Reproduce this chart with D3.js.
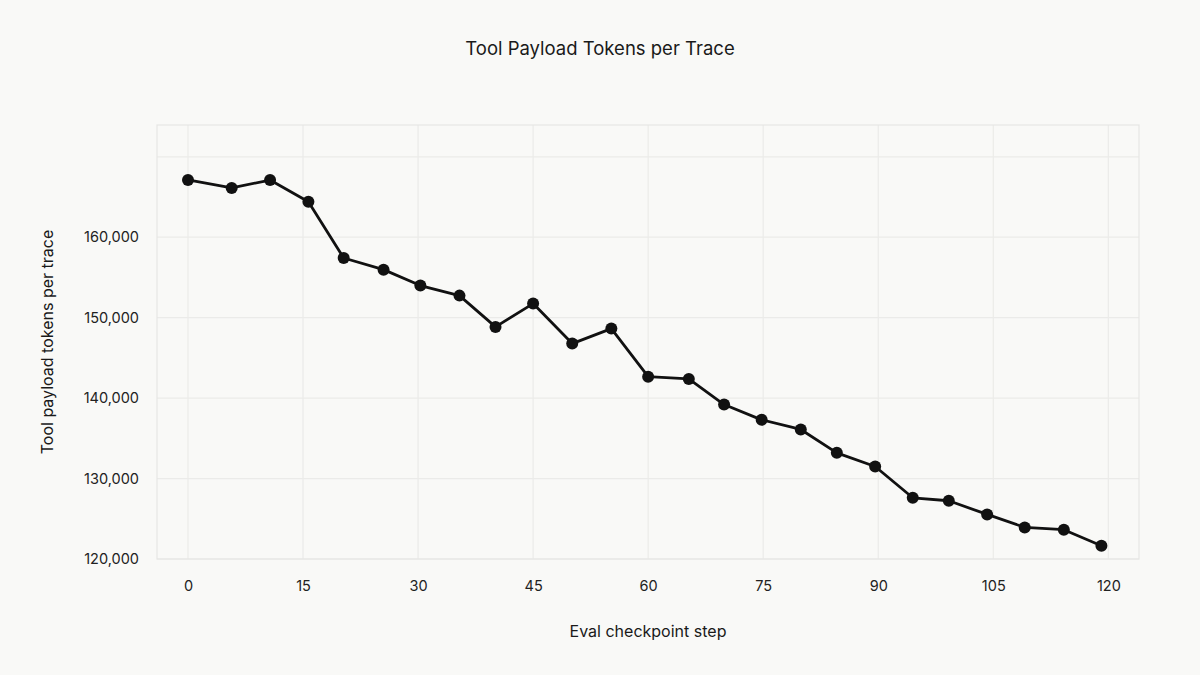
<!DOCTYPE html>
<html>
<head>
<meta charset="utf-8">
<script src="https://cdn.jsdelivr.net/npm/d3@7"></script>
<style>
  html, body { margin: 0; padding: 0; background: #f9f9f7; }
  svg { display: block; font-family: Inter, "Noto Sans", sans-serif; }
</style>
</head>
<body>
<div id="chart"></div>
<script>
const steps = [0, 5.7, 10.7, 15.7, 20.3, 25.5, 30.3, 35.4, 40.1, 45.0, 50.1, 55.2, 60.0,
  65.3, 69.9, 74.8, 79.9, 84.6, 89.6, 94.5, 99.2, 104.2, 109.1, 114.2, 119.1];
const tokens = [167120, 166120, 167110, 164410, 157420, 155970, 153990, 152740, 148850,
  151750, 146780, 148640, 142660, 142390, 139200, 137300, 136100, 133200, 131500,
  127610, 127240, 125540, 123930, 123640, 121650];
const xTicks = [0, 15, 30, 45, 60, 75, 90, 105, 120];
const yGrid = [120000, 130000, 140000, 150000, 160000, 170000];
const yTicks = [120000, 130000, 140000, 150000, 160000];

const width = 1200, height = 675;
const margin = {top: 125, right: 61, bottom: 116, left: 157};
const innerW = width - margin.left - margin.right;
const innerH = height - margin.top - margin.bottom;

const svg = d3.select('#chart').append('svg')
  .attr('width', width)
  .attr('height', height);

const x = d3.scaleLinear().domain([-4.04, 124]).range([margin.left, margin.left + innerW]);
const y = d3.scaleLinear().domain([120000, 173950]).range([margin.top + innerH, margin.top]);

const grid = svg.append('g').attr('stroke', '#ebebe9').attr('stroke-width', 1.2);
grid.selectAll('.gx').data(xTicks).enter().append('line')
  .attr('x1', d => x(d)).attr('x2', d => x(d))
  .attr('y1', margin.top).attr('y2', margin.top + innerH);
grid.selectAll('.gy').data(yGrid).enter().append('line')
  .attr('x1', margin.left).attr('x2', margin.left + innerW)
  .attr('y1', d => y(d)).attr('y2', d => y(d));

svg.append('rect')
  .attr('x', margin.left).attr('y', margin.top)
  .attr('width', innerW).attr('height', innerH)
  .attr('fill', 'none').attr('stroke', '#e6e6e4').attr('stroke-width', 1.2);

// axes (text only, no domain / tick lines)
const xAxis = svg.append('g')
  .attr('transform', `translate(0,${margin.top + innerH})`)
  .call(d3.axisBottom(x).tickValues(xTicks).tickSize(0).tickPadding(22));
const yAxis = svg.append('g')
  .attr('transform', `translate(${margin.left},0)`)
  .call(d3.axisLeft(y).tickValues(yTicks).tickSize(0).tickPadding(18).tickFormat(d3.format(',')));
[xAxis, yAxis].forEach(g => {
  g.select('.domain').remove();
  g.selectAll('text').attr('fill', '#222').style('font-size', '14.5px')
    .style('font-family', 'Inter, "Noto Sans", sans-serif');
});

const line = d3.line().x((d, i) => x(steps[i])).y(d => y(d));
svg.append('path')
  .datum(tokens)
  .attr('fill', 'none')
  .attr('stroke', '#111')
  .attr('stroke-width', 2.8)
  .attr('stroke-linejoin', 'round')
  .attr('d', line);

svg.append('g').selectAll('circle')
  .data(tokens)
  .enter().append('circle')
  .attr('cx', (d, i) => x(steps[i]))
  .attr('cy', d => y(d))
  .attr('r', 6)
  .attr('fill', '#111');

svg.append('text')
  .attr('x', width / 2).attr('y', 55)
  .attr('text-anchor', 'middle')
  .attr('fill', '#1a1a1a')
  .style('font-size', '18.5px')
  .text('Tool Payload Tokens per Trace');

svg.append('text')
  .attr('x', (margin.left + margin.left + innerW) / 2).attr('y', 637)
  .attr('text-anchor', 'middle')
  .attr('fill', '#1a1a1a')
  .style('font-size', '16px')
  .text('Eval checkpoint step');

svg.append('text')
  .attr('transform', `translate(53,${margin.top + innerH / 2}) rotate(-90)`)
  .attr('text-anchor', 'middle')
  .attr('fill', '#1a1a1a')
  .style('font-size', '16px')
  .text('Tool payload tokens per trace');
</script>
</body>
</html>
